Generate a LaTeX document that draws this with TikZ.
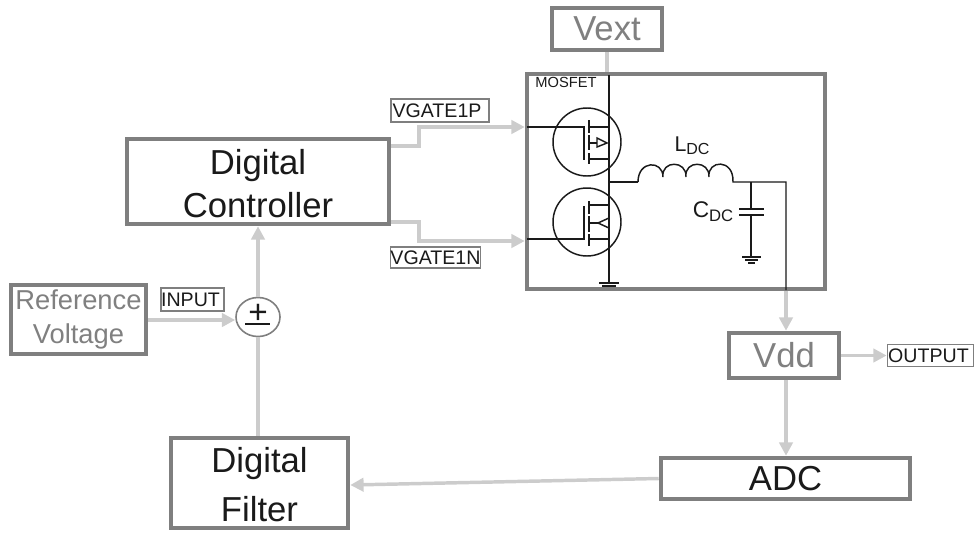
\documentclass[tikz,border=0pt]{standalone}
\usepackage{fontspec}
\setmainfont{Liberation Sans}
\usetikzlibrary{arrows.meta,calc,shapes.geometric}
\definecolor{boxgray}{HTML}{7F7F7F}
\definecolor{wiregray}{HTML}{CCCCCC}
\definecolor{txtgray}{HTML}{808080}
\definecolor{ink}{HTML}{1A1A1A}
\newcommand{\fs}[1]{\fontsize{#1}{#1}\selectfont}
\tikzset{
  bigbox/.style={draw=boxgray,line width=3.4pt,fill=white,inner sep=0pt,align=center,text=ink},
  softbox/.style={bigbox,text=txtgray},
  tag/.style={draw=boxgray,line width=1.3pt,fill=white,inner sep=0pt,align=center,text=ink,font=\fs{14.7}},
  wire/.style={draw=wiregray,line width=2.6pt},
  awire/.style={wire,-{Triangle[length=10pt,width=10pt]}},
  ckt/.style={draw=ink,line width=1.1pt},
  sumnode/.style={ellipse,draw=boxgray,line width=1.2pt,fill=white,inner sep=0pt},
  fet/.style={circle,draw=ink,line width=1.1pt,minimum size=51pt,inner sep=0pt},
  pt/.style={inner sep=0pt,outer sep=0pt,minimum size=0pt}
}
\begin{document}
\begin{tikzpicture}[x=0.75pt,y=-0.75pt]
\useasboundingbox (0,0) rectangle (974,532);
% blocks
\node[softbox,minimum width=110*0.75pt,minimum height=42*0.75pt,font=\fs{26}] (vext) at (607,29) {Vext};
\node[bigbox,minimum width=298*0.75pt,minimum height=215*0.75pt] (mosfet) at (676,181.5) {};
\node[bigbox,minimum width=262*0.75pt,minimum height=85*0.75pt,font=\fontsize{26}{32}\selectfont] (ctrl) at (258,181.5) {\rule{0pt}{22pt}Digital\\Controller};
\node[softbox,minimum width=135*0.75pt,minimum height=69*0.75pt,font=\fontsize{20.5}{26}\selectfont] (ref) at (78.5,319.5) {Reference\\Voltage};
\node[bigbox,minimum width=177*0.75pt,minimum height=90*0.75pt,font=\fontsize{26}{37}\selectfont] (filt) at (259.5,483) {\rule{0pt}{21pt}Digital\\Filter};
\node[softbox,minimum width=110*0.75pt,minimum height=45*0.75pt,font=\fs{26}] (vdd) at (784,355.5) {Vdd};
\node[bigbox,minimum width=249*0.75pt,minimum height=41*0.75pt,font=\fs{26}] (adc) at (785.5,478.5) {ADC};
\node[sumnode,minimum width=44*0.75pt,minimum height=39*0.75pt] (sum) at (258,317) {};
% sum symbol
\node[pt,font=\fs{25},text=ink] (plus) at (258,314) {+};
\coordinate (barl) at (245,324);
\coordinate (barr) at (270,324);
\draw[ckt,line width=1.4pt] (barl) -- (barr);
% gray connectors
\coordinate (g1) at (419,146);
\coordinate (g2) at (419,127);
\coordinate (g3) at (419,222);
\coordinate (g4) at (419,241);
\draw[wire] (vext.south) -- (vext.south |- mosfet.north);
\draw[awire] (ctrl.east |- g1) -- (g1) -- (g2) -- (mosfet.west |- g2);
\draw[awire] (ctrl.east |- g3) -- (g3) -- (g4) -- (mosfet.west |- g4);
\draw[awire] (ref.east |- 0,320) -- (sum.west |- 0,320);
\draw[awire] (sum.north) -- (sum.north |- ctrl.south);
\draw[wire] (sum.south) -- (sum.south |- filt.north);
\coordinate (adcl) at (adc.west);
\coordinate (filtr) at ($(filt.east)+(0,2)$);
\draw[awire] (adcl) -- (filtr);
\coordinate (lx) at (786,291);
\draw[awire] (lx) -- (lx |- vdd.north);
\draw[awire] (lx |- vdd.south) -- (lx |- adc.north);
% tags
\node[tag,minimum width=98*0.75pt,minimum height=23*0.75pt] (vp) at (440,110.5) {VGATE1P\hspace*{4.5pt}};
\node[tag,minimum width=89*0.75pt,minimum height=21*0.75pt] (vn) at (435.5,257.5) {VGATE1N};
\node[tag,minimum width=63*0.75pt,minimum height=23*0.75pt] (inp) at (192.5,299.5) {INPUT\hspace*{3pt}};
\node[tag,minimum width=86*0.75pt,minimum height=22*0.75pt] (outp) at (930.5,355.5) {OUTPUT\hspace*{3pt}};
\draw[awire] (vdd.east) -- (outp.west);
% circuit
\node[fet] (q1) at (587,142) {};
\node[fet] (q2) at (587,222) {};
\node[pt,font=\fs{11},text=ink] (mlabel) at (566,82) {MOSFET};
\node[pt,font=\fs{16},text=ink] (ldc) at (692,146) {L\raisebox{-2.5pt}{\fs{12}DC}};
\node[pt,font=\fs{17},text=ink] (cdc) at (713,212) {C\raisebox{-3pt}{\fs{12.5}DC}};
\draw[ckt] (609,75) -- (609,283);
% upper FET
\draw[ckt] (527,127) -- (584,127) -- (584,160);
\draw[ckt] (589,120) -- (589,133) (589,135) -- (589,150) (589,153) -- (589,164);
\draw[ckt] (589,127) -- (609,127) (589,159) -- (609,159) (589,143) -- (597,143);
\draw[ckt] (597,138) -- (607,143) -- (597,147) -- cycle;
% lower FET
\draw[ckt] (527,239) -- (584,239) -- (584,206);
\draw[ckt] (589,201) -- (589,214) (589,216) -- (589,232) (589,234) -- (589,246);
\draw[ckt] (589,205) -- (609,205) (589,239) -- (609,239) (589,223) -- (598,223);
\draw[ckt] (609,218) -- (598,223) -- (609,228) -- cycle;
% output filter
\draw[ckt] (609,182) -- (638,182);
\draw[ckt] (638,182) .. controls (638,160) and (663,160) .. (663,177)
  .. controls (661,160) and (687,160) .. (686,177)
  .. controls (684,160) and (710,160) .. (709,177)
  .. controls (707,160) and (734,158) .. (733,182) -- (786,182) -- (786,290);
\draw[ckt] (751,182) -- (751,209) (739,209) -- (764,209) (739,215) -- (764,215) (751,215) -- (751,257);
\draw[ckt] (742,257) -- (761,257) (745,260) -- (758,260) (748,263) -- (755,263);
\draw[ckt] (599,283) -- (619,283) (602,286) -- (616,286);
\end{tikzpicture}
\end{document}
